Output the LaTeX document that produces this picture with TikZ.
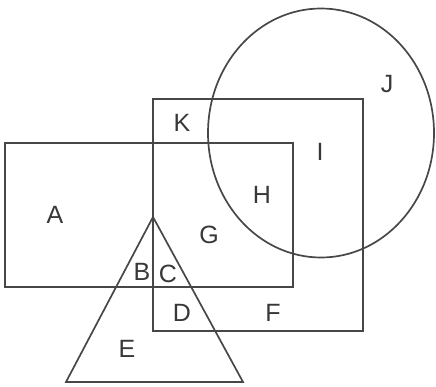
\documentclass[tikz,border=0pt]{standalone}
\usepackage{fontspec}
\setmainfont{Liberation Sans}
\usetikzlibrary{positioning}

\begin{document}
\begin{tikzpicture}[x=1pt, y=-1pt, line width=1.7pt]
        \tikzset{region/.style={draw=black!72}, tag/.style={font=\fontsize{25}{25}\selectfont, text=black!78, inner sep=0pt}}
        \useasboundingbox (0,0) rectangle (436,387);
        \draw[region] (5,143) rectangle (293,287);
        \draw[region] (153,99) rectangle (363,331);
        \draw[region] (321,133) ellipse [x radius=113, y radius=124.5];
        \draw[region] (153,217) -- (66,382) -- (243,382) -- cycle;
        \node[tag] (a) at (55,215) {A};
        \node[tag] (b) at (142,272) {B};
        \node[tag] (c) at (168,274) {C};
        \node[tag] (d) at (182,313) {D};
        \node[tag] (e) at (127,349) {E};
        \node[tag] (f) at (273,313) {F};
        \node[tag] (g) at (209,235) {G};
        \node[tag] (h) at (262,195) {H};
        \node[tag] (i) at (320,152) {I};
        \node[tag] (j) at (387,84) {J};
        \node[tag] (k) at (182,123) {K};
    \end{tikzpicture}
\end{document}
